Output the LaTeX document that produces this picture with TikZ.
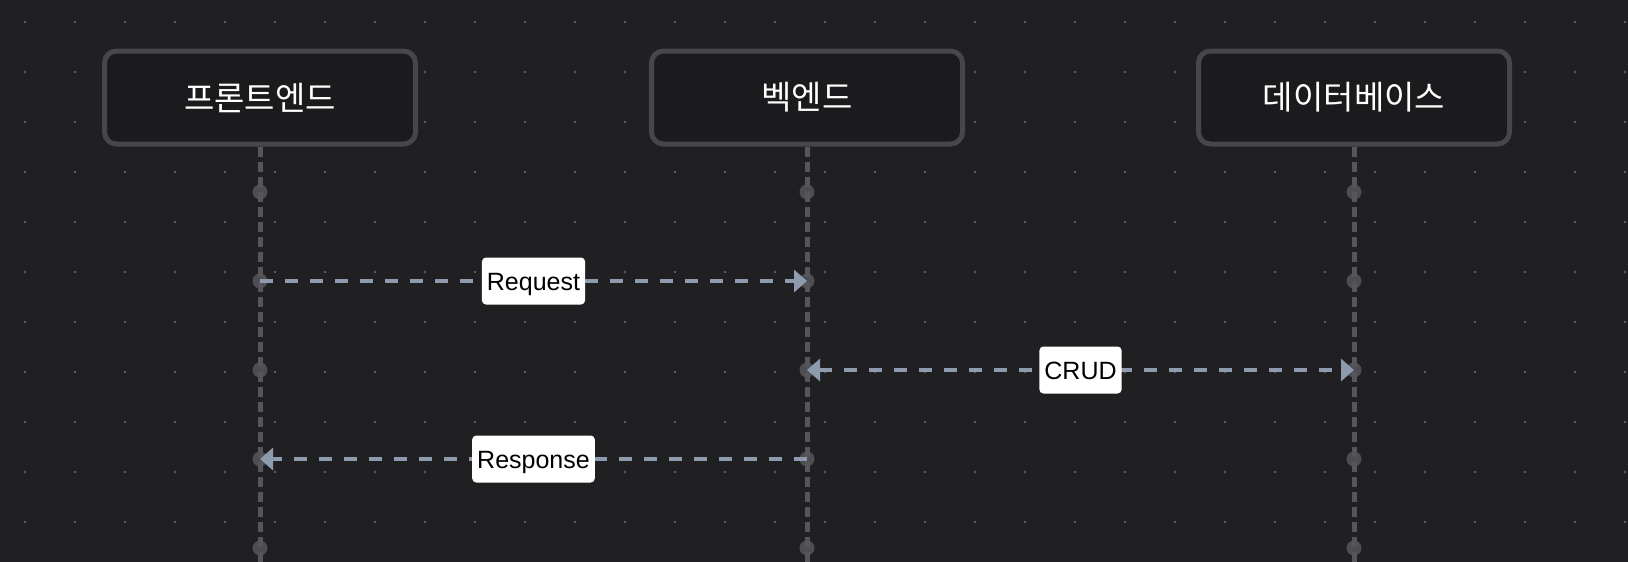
\documentclass[tikz,border=0pt]{standalone}
\usepackage{fontspec}
\setmainfont{Liberation Sans}
\newfontfamily\kofont{Noto Sans CJK KR}
\usepackage {tikz}
\usetikzlibrary {positioning,arrows.meta}
\definecolor{bgdark}{RGB}{32,32,35}
\definecolor{boxfill}{RGB}{27,27,30}
\definecolor{boxline}{RGB}{70,70,76}
\definecolor{lifegrey}{RGB}{85,85,91}
\definecolor{dotgrey}{RGB}{95,95,101}
\definecolor{msgblue}{RGB}{142,154,174}

\begin{document}
\begin{tikzpicture}[x=1pt, y=-1pt, node distance = 89pt and 547pt, on grid,
		actor/.style={rectangle, rounded corners=12pt, fill=boxfill, draw=boxline, line width=5pt, minimum width=311pt, minimum height=93pt, text=white, font=\kofont\fontsize{33}{38}\selectfont},
		lifeline/.style={draw=lifegrey, line width=5pt, dash pattern=on 10pt off 5pt},
		lifedot/.style={circle, fill=lifegrey, fill opacity=0.85, inner sep=0pt, minimum size=15pt},
		msg/.style={draw=msgblue, line width=3.5pt, dash pattern=on 13pt off 12pt},
		tip/.style={-{Triangle[length=13pt, width=22pt]}},
		bothtips/.style={{Triangle[length=13pt, width=22pt]}-{Triangle[length=13pt, width=22pt]}},
		msglabel/.style={fill=white, rounded corners=4pt, text=black, inner xsep=5pt, text height=18pt, text depth=0pt, minimum height=47pt, font=\fontsize{25}{30}\selectfont}]
			\useasboundingbox [fill=bgdark] (0,0) rectangle (1628,562);
			% background dots
			\foreach \x in {25,75,...,1625}
				\foreach \y in {22,72,...,522}
					\fill [dotgrey] (\x,\y) circle (1.3pt);
			\node [actor] (F) at (260,97.5) {프론트엔드};
			\node [actor] (B) [right =of F] {벡엔드};
			\node [actor] (D) [right =of B] {데이터베이스};
			\coordinate (Fend) at (260,562);
			\coordinate (Bend) at (807,562);
			\coordinate (Dend) at (1354,562);
			\path [lifeline] (F.south) -- (Fend);
			\path [lifeline] (B.south) -- (Bend);
			\path [lifeline] (D.south) -- (Dend);
			\node [lifedot] (F1) [below =94.5pt of F] {};
			\node [lifedot] (F2) [below =of F1] {};
			\node [lifedot] (F3) [below =of F2] {};
			\node [lifedot] (F4) [below =of F3] {};
			\node [lifedot] (F5) [below =of F4] {};
			\node [lifedot] (B1) [below =94.5pt of B] {};
			\node [lifedot] (B2) [below =of B1] {};
			\node [lifedot] (B3) [below =of B2] {};
			\node [lifedot] (B4) [below =of B3] {};
			\node [lifedot] (B5) [below =of B4] {};
			\node [lifedot] (D1) [below =94.5pt of D] {};
			\node [lifedot] (D2) [below =of D1] {};
			\node [lifedot] (D3) [below =of D2] {};
			\node [lifedot] (D4) [below =of D3] {};
			\node [lifedot] (D5) [below =of D4] {};
			\draw [msg, tip] (F2.center) -- node [msglabel] {Request} (B2.center);
			\draw [msg, bothtips] (B3.center) -- node [msglabel] {CRUD} (D3.center);
			\draw [msg, tip] (B4.center) -- node [msglabel] {Response} (F4.center);
		\end{tikzpicture}
\end{document}
